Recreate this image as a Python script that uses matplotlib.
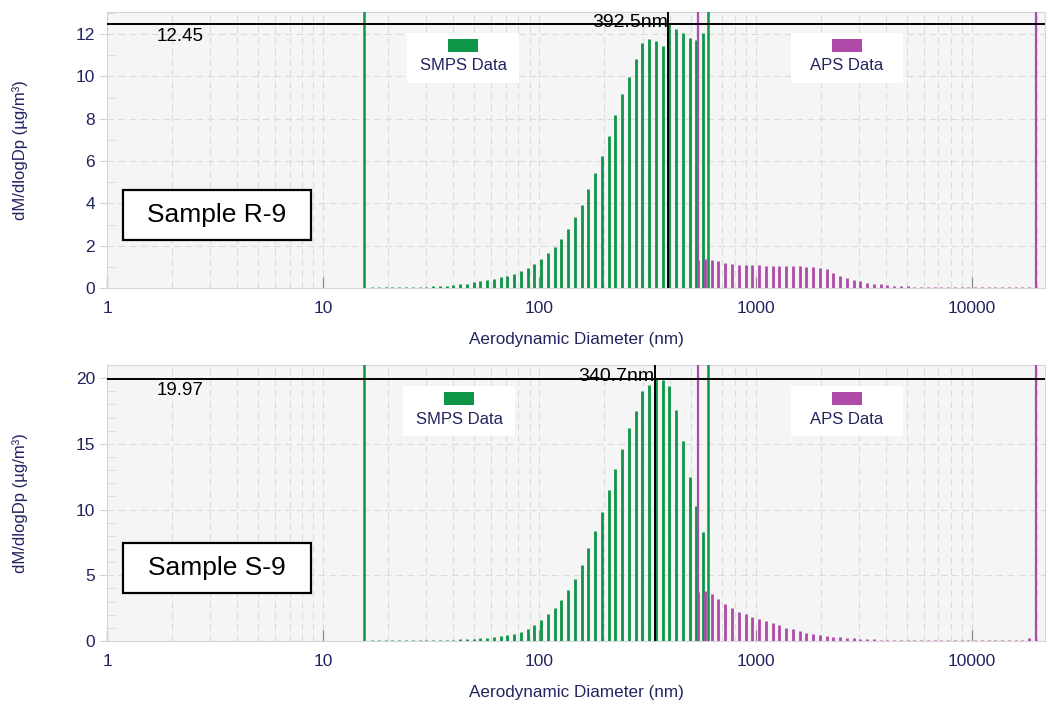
import matplotlib
matplotlib.use("Agg")
import matplotlib.pyplot as plt
from matplotlib.patches import Rectangle
from matplotlib.ticker import FixedLocator, NullFormatter, LogLocator, MultipleLocator

plt.rcParams["font.family"] = ["Liberation Sans", "DejaVu Sans"]

# ── Data ──────────────────────────────────────────────────────────────────────
# bin midpoints (nm)
smps_dp = [16.8, 18.1, 19.5, 20.9, 22.5, 24.1, 25.9, 27.9, 30.0, 32.2,
           34.6, 37.2, 40.0, 42.9, 46.1, 49.6, 53.3, 57.3, 61.5, 66.1,
           71.0, 76.4, 82.0, 88.2, 94.7, 101.8, 109.4, 117.6, 126.3, 135.8,
           145.9, 156.8, 168.5, 181.1, 194.6, 209.1, 224.7, 241.4, 259.5, 278.8,
           299.6, 322.0, 346.0, 371.8, 399.5, 429.4, 461.4, 495.8, 532.8, 572.5]
aps_dp = [542, 583, 626, 673, 723, 777, 835, 898, 965, 1037,
          1114, 1197, 1286, 1382, 1486, 1596, 1715, 1843, 1981, 2129,
          2288, 2458, 2642, 2839, 3051, 3278, 3523, 3786, 4068, 4371,
          4698, 5048, 5425, 5829, 6264, 6732, 7234, 7774, 8354, 8977,
          9647, 10370, 11140, 11970, 12860, 13820, 14860, 15960, 17150, 18430,
          19810]

# Sample R-9 (dM/dlogDp, ug/m3)
r9_smps = [0.06, 0.06, 0.06, 0.06, 0.06, 0.06, 0.06, 0.06, 0.07, 0.08,
           0.09, 0.11, 0.14, 0.17, 0.20, 0.27, 0.33, 0.38, 0.42, 0.50,
           0.58, 0.68, 0.80, 0.96, 1.13, 1.38, 1.64, 1.95, 2.33, 2.79,
           3.37, 3.92, 4.66, 5.42, 6.24, 7.20, 8.17, 9.15, 9.95, 10.80,
           11.59, 11.75, 11.68, 11.45, 12.45, 12.22, 12.03, 11.82, 11.71, 12.03]
r9_aps = [1.30, 1.36, 1.33, 1.28, 1.20, 1.15, 1.10, 1.08, 1.08, 1.08,
          1.06, 1.06, 1.06, 1.04, 1.04, 1.02, 1.00, 0.98, 0.94, 0.89,
          0.73, 0.58, 0.46, 0.36, 0.31, 0.25, 0.20, 0.17, 0.14, 0.11,
          0.09, 0.08, 0.07, 0.07, 0.06, 0.06, 0.06, 0.06, 0.06, 0.06,
          0.06, 0.06, 0.06, 0.06, 0.06, 0.06, 0.06, 0.06, 0.06, 0.06,
          0.06]

# Sample S-9
s9_smps = [0.10, 0.10, 0.10, 0.10, 0.10, 0.10, 0.10, 0.10, 0.10, 0.10,
           0.10, 0.10, 0.11, 0.12, 0.13, 0.16, 0.20, 0.25, 0.30, 0.35,
           0.42, 0.55, 0.68, 0.90, 1.20, 1.57, 2.03, 2.54, 3.14, 3.90,
           4.74, 5.78, 7.05, 8.39, 9.84, 11.48, 13.10, 14.60, 16.20, 17.50,
           19.00, 19.50, 19.97, 19.85, 19.40, 17.60, 15.20, 12.50, 10.27, 8.31]
s9_aps = [3.70, 3.80, 3.57, 3.19, 2.81, 2.48, 2.20, 2.05, 1.85, 1.65,
          1.52, 1.38, 1.20, 1.01, 0.88, 0.76, 0.63, 0.53, 0.46, 0.38,
          0.33, 0.28, 0.23, 0.20, 0.17, 0.14, 0.12, 0.11, 0.10, 0.10,
          0.10, 0.10, 0.10, 0.10, 0.10, 0.10, 0.10, 0.10, 0.10, 0.10,
          0.10, 0.10, 0.10, 0.10, 0.10, 0.10, 0.10, 0.10, 0.10, 0.20,
          0.10]

smps_limits = [15.4, 600]
aps_limits = [542, 19810]
x_ticks = [1, 10, 100, 1000, 10000]
x_ticklabels = ["1", "10", "100", "1000", "10000"]

# ── Style ─────────────────────────────────────────────────────────────────────
GREEN = "#0d9647"
MAGENTA = "#b04aa8"
NAVY = "#22245e"
BG = "#f4f5f4"
GRID = "#d9dcd9"
W = 938.0   # axes width in px
H = 276.0   # axes height in px


def draw_panel(ax, smps, aps, ymax, ystep, peak_dp, peak_val, sample, smps_leg_x):
    ax.set_facecolor(BG)
    ax.set_xscale("log")
    ax.set_xlim(1, 21800)
    ax.set_ylim(0, ymax)

    # grid
    ax.xaxis.set_minor_locator(LogLocator(base=10, subs=range(2, 10)))
    ax.xaxis.set_minor_formatter(NullFormatter())
    ax.grid(True, which="both", axis="x", color=GRID, lw=0.8, ls=(0, (6, 4)), zorder=0)
    ax.grid(True, which="major", axis="y", color=GRID, lw=0.8, ls=(0, (6, 4)), zorder=0)
    ax.set_axisbelow(True)
    for sp in ax.spines.values():
        sp.set_color("#d6d6d6")
        sp.set_linewidth(0.8)

    ax.xaxis.set_major_locator(FixedLocator(x_ticks))
    ax.set_xticklabels(x_ticklabels)
    ax.yaxis.set_major_locator(MultipleLocator(ystep))
    ax.yaxis.set_minor_locator(MultipleLocator(1))
    ax.tick_params(axis="x", which="major", direction="in", length=8, width=0.9,
                   color="#8a8a8a", labelsize=12.5, labelcolor=NAVY, pad=9)
    ax.tick_params(axis="x", which="minor", length=0)
    ax.tick_params(axis="y", which="major", direction="out", length=6, width=0.8,
                   color="#d6d6d6", labelsize=12.5, labelcolor=NAVY, pad=2.5)
    ax.tick_params(axis="y", which="minor", direction="in", length=6, width=0.8,
                   color="#dcdcdc")

    # bars
    ax.vlines(smps_dp, 0, smps, color=GREEN, lw=2.0, zorder=3)
    ax.vlines(aps_dp, 0, aps, color=MAGENTA, lw=2.0, zorder=3)

    # instrument limits
    for d in smps_limits:
        ax.axvline(d, color=GREEN, lw=1.8, zorder=5)
    for d in aps_limits:
        ax.axvline(d, color=MAGENTA, lw=1.6, zorder=4)

    # peak cursor
    ax.axvline(peak_dp, color="black", lw=1.4, zorder=6)
    ax.axhline(peak_val, color="black", lw=1.4, zorder=6)
    ax.text(peak_dp, peak_val + ymax * 0.006, f"{peak_dp}nm", ha="right", va="center",
            fontsize=14, color="black", zorder=5)
    ax.text(1.7, peak_val - ymax * 0.012, f"{peak_val:.2f}", ha="left", va="top",
            fontsize=13.5, color="black", zorder=5)

    # legend boxes (axes coords)
    for cx, col, label in [(smps_leg_x, GREEN, "SMPS Data"), (847, MAGENTA, "APS Data")]:
        ax.add_patch(Rectangle(((cx - 56 - 107) / W, 1 - 71 / H), 112 / W, 50 / H,
                               transform=ax.transAxes, facecolor="white",
                               edgecolor="none", zorder=7))
        ax.add_patch(Rectangle(((cx - 15 - 107) / W, 1 - 40 / H), 30 / W, 13 / H,
                               transform=ax.transAxes, facecolor=col,
                               edgecolor="none", zorder=8))
        ax.text((cx - 107) / W, 1 - 54 / H, label, transform=ax.transAxes,
                ha="center", va="center", fontsize=12, color=NAVY, zorder=9)

    # sample label box: 188 x 50 px
    ax.add_patch(Rectangle(((123 - 107) / W, 48 / H), 188 / W, 50 / H,
                           transform=ax.transAxes, facecolor="white",
                           edgecolor="black", lw=1.6, zorder=8))
    ax.text((217 - 107) / W, 73 / H, sample, transform=ax.transAxes,
            ha="center", va="center", fontsize=19, color="black", zorder=9)

    ax.set_xlabel("Aerodynamic Diameter (nm)", fontsize=12.3, color=NAVY, labelpad=12)
    ax.set_ylabel("dM/dlogDp (µg/m³)", fontsize=12, color=NAVY)
    ax.yaxis.set_label_coords(-0.084, 0.5)


fig = plt.figure(figsize=(10.48, 7.04), dpi=100)
fig.patch.set_facecolor("white")
ax1 = fig.add_axes([107 / 1048, 1 - 288 / 704, 938 / 1048, 276 / 704])
ax2 = fig.add_axes([107 / 1048, 1 - 641 / 704, 938 / 1048, 276 / 704])

draw_panel(ax1, r9_smps, r9_aps, 13.04, 2, 392.5, 12.45, "Sample R-9", 463)
draw_panel(ax2, s9_smps, s9_aps, 21.0, 5, 340.7, 19.97, "Sample S-9", 459)

fig.savefig("out.png", dpi=100, facecolor="white")
plt.close(fig)
